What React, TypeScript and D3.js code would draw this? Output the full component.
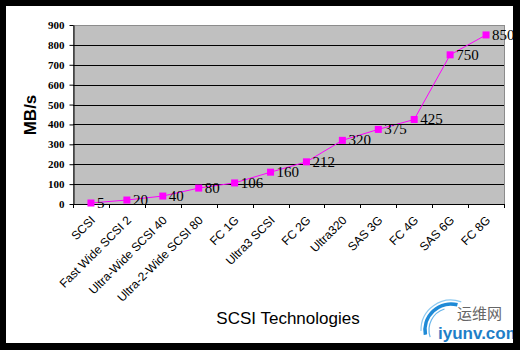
import React, { useRef, useEffect } from "react";
import * as d3 from "d3";

const categories = [
  "SCSI",
  "Fast Wide SCSI 2",
  "Ultra-Wide SCSI 40",
  "Ultra-2-Wide SCSI 80",
  "FC 1G",
  "Ultra3 SCSI",
  "FC 2G",
  "Ultra320",
  "SAS 3G",
  "FC 4G",
  "SAS 6G",
  "FC 8G",
];
const speeds = [5, 20, 40, 80, 106, 160, 212, 320, 375, 425, 750, 850];
const yTicks = [0, 100, 200, 300, 400, 500, 600, 700, 800, 900];

const App = () => {
  const svgRef = useRef<SVGSVGElement>(null);

  useEffect(() => {
    const svg = d3.select(svgRef.current);
    svg.selectAll("*").remove();

    // frame
    svg.append("rect").attr("width", 520).attr("height", 350).attr("fill", "#000");
    svg.append("rect").attr("x", 6).attr("y", 6).attr("width", 507).attr("height", 337).attr("fill", "#fff");
    svg
      .append("clipPath")
      .attr("id", "inner")
      .append("rect")
      .attr("x", 6)
      .attr("y", 6)
      .attr("width", 507)
      .attr("height", 337);

    const margin = { top: 25, left: 73 };
    const width = 431;
    const height = 179;

    const x = d3.scaleBand().domain(categories).range([0, width]);
    const y = d3.scaleLinear().domain([0, 900]).range([height, 0]);

    const g = svg.append("g").attr("transform", `translate(${margin.left},${margin.top})`);

    g.append("rect")
      .attr("x", 0.5)
      .attr("y", 0.5)
      .attr("width", width)
      .attr("height", height)
      .attr("fill", "#c0c0c0")
      .attr("stroke", "#8c8c8c")
      .attr("stroke-width", 1);

    // gridlines
    g.selectAll(".grid")
      .data(yTicks.slice(1, -1))
      .enter()
      .append("line")
      .attr("x1", 0)
      .attr("x2", width)
      .attr("y1", (d) => Math.round(y(d)) + 0.5)
      .attr("y2", (d) => Math.round(y(d)) + 0.5)
      .attr("stroke", "#000")
      .attr("stroke-width", 1);

    // y axis
    const yAxis = g
      .append("g")
      .attr("transform", "translate(0.5,0)")
      .call(d3.axisLeft(y).tickValues(yTicks).tickSize(4).tickSizeOuter(0));
    yAxis.attr("font-family", "Liberation Serif, Times New Roman, serif");
    yAxis.select(".domain").attr("stroke", "#000");
    yAxis
      .selectAll("text")
      .attr("font-family", "Liberation Serif, Times New Roman, serif")
      .attr("font-weight", "bold")
      .attr("font-size", "11px")
      .attr("fill", "#000")
      .attr("dx", "-2");

    // x axis: ticks between categories
    const xAxisG = g.append("g").attr("transform", `translate(0,${height})`);
    xAxisG
      .append("line")
      .attr("x1", 0)
      .attr("x2", width)
      .attr("y1", 0.5)
      .attr("y2", 0.5)
      .attr("stroke", "#000");
    const edges = d3.range(categories.length + 1).map((i) => i * x.step());
    xAxisG
      .selectAll(".tk")
      .data(edges)
      .enter()
      .append("line")
      .attr("x1", (d) => Math.round(d) + 0.5)
      .attr("x2", (d) => Math.round(d) + 0.5)
      .attr("y1", 0)
      .attr("y2", 4)
      .attr("stroke", "#000");
    xAxisG
      .selectAll(".lbl")
      .data(categories)
      .enter()
      .append("text")
      .attr(
        "transform",
        (d) => `translate(${(x(d) as number) + x.bandwidth() / 2 + 5},${17}) rotate(-45)`
      )
      .attr("text-anchor", "end")
      .attr("font-family", "Liberation Sans, Arial, sans-serif")
      .attr("font-size", "12px")
      .attr("fill", "#000")
      .text((d) => d);

    // line + markers
    const cx = (i: number) => (x(categories[i]) as number) + x.bandwidth() / 2;
    const line = d3
      .line<number>()
      .x((d, i) => cx(i))
      .y((d) => y(d));
    g.append("path")
      .attr("d", line(speeds))
      .attr("fill", "none")
      .attr("stroke", "#ff00ff")
      .attr("stroke-width", 1);
    g.selectAll(".mk")
      .data(speeds)
      .enter()
      .append("rect")
      .attr("x", (d, i) => cx(i) - 3.5)
      .attr("y", (d) => y(d) - 3.5)
      .attr("width", 7)
      .attr("height", 7)
      .attr("fill", "#ff00ff");
    g.selectAll(".dl")
      .data(speeds)
      .enter()
      .append("text")
      .attr("x", (d, i) => cx(i) + 6)
      .attr("y", (d) => y(d) + 5)
      .attr("font-family", "Liberation Serif, Times New Roman, serif")
      .attr("font-size", "15px")
      .attr("fill", "#000")
      .text((d) => d);

    // axis titles
    svg
      .append("text")
      .attr("transform", "translate(36,115) rotate(-90)")
      .attr("text-anchor", "middle")
      .attr("font-family", "Liberation Sans, Arial, sans-serif")
      .attr("font-weight", "bold")
      .attr("font-size", "17px")
      .attr("fill", "#000")
      .text("MB/s");
    svg
      .append("text")
      .attr("x", 288)
      .attr("y", 324)
      .attr("text-anchor", "middle")
      .attr("font-family", "Liberation Sans, Arial, sans-serif")
      .attr("font-size", "17px")
      .attr("fill", "#000")
      .text("SCSI Technologies");

    // watermark
    const wm = svg.append("g").attr("clip-path", "url(#inner)");
    const arc = (r: number, a0: number, a1: number) =>
      d3.arc()({ innerRadius: r, outerRadius: r, startAngle: a0, endAngle: a1 } as any);
    const arcs = [
      { r: 26, w: 3.5, c: "#1f8ad6", a0: -1.75, a1: 0.25 },
      { r: 30, w: 1.2, c: "#8fcaf0", a0: -1.6, a1: 0.35 },
      { r: 22, w: 1.2, c: "#6ab6ea", a0: -1.9, a1: -0.3 },
    ];
    arcs.forEach((a) => {
      wm.append("path")
        .attr("transform", "translate(451,330)")
        .attr("d", arc(a.r, a.a0 + Math.PI * 2, a.a1 + Math.PI * 2))
        .attr("fill", "none")
        .attr("stroke", a.c)
        .attr("stroke-width", a.w);
    });
    wm.append("text")
      .attr("x", 457)
      .attr("y", 319)
      .attr("font-family", "Noto Sans CJK SC, sans-serif")
      .attr("font-size", "15px")
      .attr("fill", "#666")
      .text("运维网");
    wm.append("text")
      .attr("x", 438)
      .attr("y", 339)
      .attr("font-family", "Liberation Sans, Arial, sans-serif")
      .attr("font-weight", "bold")
      .attr("font-size", "17px")
      .attr("fill", "#1f7fc8")
      .text("iyunv.com");
  }, []);

  return (
    <svg
      ref={svgRef}
      width={520}
      height={350}
      style={{ position: "absolute", left: 0, top: 0 }}
    ></svg>
  );
};

export default App;
